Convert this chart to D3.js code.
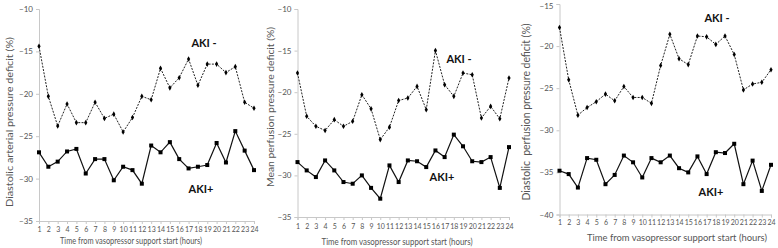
<!DOCTYPE html>
<html><head><meta charset="utf-8">
<script src="https://cdn.jsdelivr.net/npm/d3@7"></script>
<style>body{margin:0;background:#fff}svg{display:block}text{font-family:Lato,"Open Sans",sans-serif}</style>
</head><body><svg id="c" width="778" height="248"></svg>
<script>
const hours = d3.range(1, 25);
const xTickLabels = hours.map(String);

const p1Title = "Diastolic arterial pressure deficit (%)";
const p1Ticks = [-10, -15, -20, -25, -30, -35];
const p1AkiNeg = [-14.4,-20.3,-23.8,-21.2,-23.4,-23.4,-21.0,-22.9,-22.4,-24.5,-22.8,-20.3,-20.7,-17.0,-19.3,-18.1,-15.9,-19.0,-16.5,-16.5,-17.5,-16.8,-21.0,-21.7];
const p1AkiPos = [-26.9,-28.6,-28.0,-26.8,-26.5,-29.4,-27.7,-27.7,-30.2,-28.6,-29.0,-30.6,-26.1,-26.9,-25.7,-27.7,-28.8,-28.6,-28.4,-25.8,-28.1,-24.4,-26.7,-29.0];

const p2Title = "Mean perfusion pressure deficit (%)";
const p2Ticks = [-10, -15, -20, -25, -30, -35];
const p2AkiNeg = [-17.7,-22.9,-24.1,-24.6,-23.3,-24.1,-23.5,-20.3,-22.0,-25.7,-24.2,-21.0,-20.7,-19.3,-22.1,-15.0,-19.1,-20.5,-17.7,-17.9,-23.1,-21.7,-23.2,-18.3];
const p2AkiPos = [-28.4,-29.4,-30.2,-28.2,-29.4,-30.8,-31.0,-30.0,-31.5,-32.8,-28.8,-30.8,-28.2,-28.3,-29.0,-27.0,-27.8,-25.1,-26.5,-28.3,-28.4,-27.8,-31.5,-26.6];

const p3Title = "Diastolic  perfusion pressure deficit (%)";
const p3Ticks = [-15, -20, -25, -30, -35, -40];
const p3AkiNeg = [-17.8,-24.0,-28.2,-27.3,-26.6,-25.7,-26.5,-24.8,-26.1,-26.1,-26.8,-22.3,-18.6,-21.5,-22.2,-18.8,-18.9,-19.8,-18.8,-21.0,-25.2,-24.5,-24.3,-22.8];
const p3AkiPos = [-34.8,-35.2,-36.8,-33.3,-33.5,-36.4,-35.3,-33.0,-33.8,-35.6,-33.3,-33.8,-33.0,-34.5,-35.0,-33.1,-35.2,-32.6,-32.7,-31.6,-36.4,-33.6,-37.2,-34.1];

const xTitle = "Time from vasopressor support start (hours)";
const labelNeg = "AKI -", labelPos = "AKI+";

const panels = [
  {title:p1Title, ticks:p1Ticks, neg:p1AkiNeg, pos:p1AkiPos,
   x0:39, x1:254, yTop:9, yBot:221, xLabY:230, xTitY:240, xTitX:131, xTitW:142, xfs:10,
   yTitX:9, yTitY:122, yTitW:170, yfs:10, negLab:[204,43], posLab:[201,189]},
  {title:p2Title, ticks:p2Ticks, neg:p2AkiNeg, pos:p2AkiPos,
   x0:297.5, x1:509, yTop:9, yBot:217, xLabY:227, xTitY:241, xTitX:397, xTitW:151, xfs:10,
   yTitX:270, yTitY:107, yTitW:160, yfs:10, negLab:[459,59], posLab:[442,177]},
  {title:p3Title, ticks:p3Ticks, neg:p3AkiNeg, pos:p3AkiPos,
   x0:559.5, x1:771, yTop:4, yBot:214.5, xLabY:223, xTitY:237.5, xTitX:677, xTitW:180, xfs:9.5,
   yTitX:526, yTitY:112, yTitW:177, yfs:10.5, negLab:[717,18], posLab:[711,192]}
];

const svg = d3.select("#c");
const axisCol = "#c8c8c8", textCol = "#555";

panels.forEach(p => {
  const x = d3.scaleLinear().domain([1, 24]).range([p.x0, p.x1]);
  const tmax = d3.max(p.ticks), tmin = d3.min(p.ticks);
  const y = d3.scaleLinear().domain([tmin, tmax]).range([p.yBot, p.yTop]);
  const g = svg.append("g");

  const ya = g.append("g").attr("transform", `translate(${p.x0},0)`)
    .call(d3.axisLeft(y).tickValues(p.ticks).tickSize(3).tickFormat(d3.format("d")));
  ya.select(".domain").attr("stroke", axisCol);
  ya.selectAll(".tick line").attr("stroke", axisCol);
  ya.selectAll(".tick text").attr("fill", textCol).attr("font-size", 8).attr("x", -6)
    .attr("font-family", "Lato,sans-serif")
    .attr("dy", d => (y(d) < 6 ? "0.6em" : "0.32em"));

  const xa = g.append("g").attr("transform", `translate(0,${p.yBot})`)
    .call(d3.axisBottom(x).tickValues(hours).tickSize(3).tickFormat((d,i) => xTickLabels[i]));
  xa.select(".domain").attr("stroke", axisCol);
  xa.selectAll(".tick line").attr("stroke", axisCol);
  xa.selectAll(".tick text").attr("fill", textCol).attr("font-size", 7)
    .attr("y", p.xLabY - p.yBot).attr("dy", "0.35em")
    .attr("font-family", "Lato,sans-serif");

  g.append("text").attr("x", p.xTitX).attr("y", p.xTitY).attr("dy", "0.35em")
    .attr("text-anchor", "middle").attr("font-size", p.xfs).attr("fill", textCol)
    .attr("textLength", p.xTitW).attr("lengthAdjust", "spacingAndGlyphs").text(xTitle);
  g.append("text").attr("transform", `translate(${p.yTitX},${p.yTitY}) rotate(-90)`)
    .attr("text-anchor", "middle").attr("dy", "0.35em").attr("font-size", p.yfs).attr("fill", textCol)
    .attr("textLength", p.yTitW).attr("lengthAdjust", "spacingAndGlyphs")
    .style("white-space", "pre").text(p.title);

  const line = d3.line().x((d, i) => x(hours[i])).y(d => y(d));

  g.append("path").datum(p.neg).attr("d", line).attr("fill", "none")
    .attr("stroke", "#222").attr("stroke-width", 1).attr("stroke-dasharray", "2,1.3");
  g.selectAll(".mn").data(p.neg).enter().append("path")
    .attr("d", d3.symbol(d3.symbolDiamond, 9))
    .attr("transform", (d, i) => `translate(${x(hours[i])},${y(d)})`).attr("fill", "#000");

  g.append("path").datum(p.pos).attr("d", line).attr("fill", "none")
    .attr("stroke", "#111").attr("stroke-width", 1.2);
  g.selectAll(".mp").data(p.pos).enter().append("rect")
    .attr("x", (d, i) => x(hours[i]) - 2).attr("y", d => y(d) - 2)
    .attr("width", 4).attr("height", 4).attr("fill", "#000");

  g.append("text").attr("x", p.negLab[0]).attr("y", p.negLab[1]).attr("dy", "0.35em")
    .attr("text-anchor", "middle").attr("font-weight", "bold").attr("font-size", 11).attr("fill", "#111").text(labelNeg);
  g.append("text").attr("x", p.posLab[0]).attr("y", p.posLab[1]).attr("dy", "0.35em")
    .attr("text-anchor", "middle").attr("font-weight", "bold").attr("font-size", 11).attr("fill", "#111").text(labelPos);
});
</script></body></html>
